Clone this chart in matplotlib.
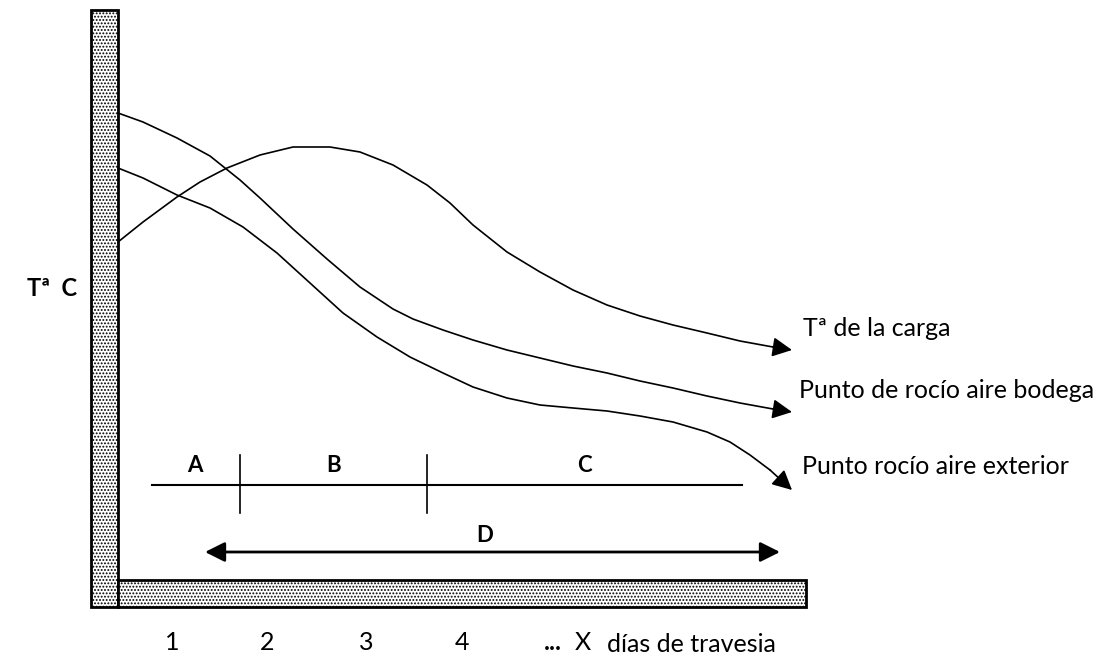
import matplotlib.pyplot as plt
from matplotlib.patches import Rectangle

# curves, in pixel coordinates (x right, y down)
carga_x = [118, 143, 177, 200, 227, 260, 293, 330, 360, 393, 427, 450, 473, 507, 540, 573, 607, 640, 673, 707, 740, 773, 792]
carga_y = [242, 222, 197, 182, 168, 155, 147, 147, 152, 165, 185, 203, 225, 252, 272, 290, 305, 316, 325, 333, 341, 347, 350]

bodega_x = [118, 143, 177, 210, 240, 260, 293, 327, 360, 393, 413, 443, 473, 507, 540, 573, 607, 640, 673, 707, 740, 773, 792]
bodega_y = [113, 122, 138, 156, 180, 198, 229, 259, 287, 309, 319, 330, 340, 350, 358, 366, 373, 381, 388, 396, 403, 409, 412]

exterior_x = [118, 143, 177, 210, 243, 277, 310, 343, 377, 410, 443, 473, 507, 540, 573, 607, 640, 673, 707, 730, 750, 770, 792]
exterior_y = [168, 178, 195, 208, 227, 253, 283, 313, 337, 357, 373, 387, 398, 405, 408, 411, 416, 422, 432, 442, 455, 470, 490]

curve_labels = ["Tª de la carga", "Punto de rocío aire bodega", "Punto rocío aire exterior"]
label_pos = [(803, 328), (799, 390), (802, 467)]

phase_labels = ["A", "B", "C"]
phase_edges = [152, 240, 427, 742]

day_labels = ["1", "2", "3", "4"]
day_x = [172, 267, 366, 462]

FONT = ["Lato", "DejaVu Sans"]

fig = plt.figure(figsize=(11.01, 6.59), dpi=100)
ax = fig.add_axes([0, 0, 1, 1])
ax.set_xlim(0, 1101)
ax.set_ylim(659, 0)
ax.axis("off")

plt.rcParams["hatch.linewidth"] = 0.9
# hatched axes bars
ax.add_patch(Rectangle((91, 10), 27, 597, facecolor="white", edgecolor="black", hatch=".....", lw=2, zorder=2))
ax.add_patch(Rectangle((118, 580), 688, 27, facecolor="white", edgecolor="black", hatch=".....", lw=2, zorder=2))

for xs, ys in [(carga_x, carga_y), (bodega_x, bodega_y), (exterior_x, exterior_y)]:
    ax.plot(xs[:-1], ys[:-1], color="black", lw=1.2, zorder=3)
    ax.annotate("", xy=(xs[-1], ys[-1]), xytext=(xs[-2], ys[-2]),
                arrowprops=dict(arrowstyle="-|>", color="black", lw=1.2,
                                mutation_scale=30, shrinkA=0, shrinkB=0))

for txt, (x, y) in zip(curve_labels, label_pos):
    ax.text(x, y, txt, fontsize=18, family=FONT, va="center", ha="left")

# phase segments A B C
ax.plot([phase_edges[0], phase_edges[-1]], [485, 485], color="black", lw=1.5)
for x in phase_edges[1:-1]:
    ax.plot([x, x], [455, 513], color="black", lw=1.2)
for i, txt in enumerate(phase_labels):
    cx = (phase_edges[i] + phase_edges[i + 1]) / 2
    if i == 0:
        cx = 195
    ax.text(cx, 465, txt, fontsize=16, family=FONT, fontweight="bold", ha="center", va="center")

# D double arrow
ax.annotate("", xy=(205, 552), xytext=(780, 552),
            arrowprops=dict(arrowstyle="<|-|>", color="black", lw=2,
                            mutation_scale=30, shrinkA=0, shrinkB=0))
ax.text(485, 535, "D", fontsize=16, family=FONT, fontweight="bold", ha="center", va="center")

ax.text(52, 288, "Tª  C", fontsize=17, family=FONT, fontweight="bold", ha="center", va="center")

for txt, x in zip(day_labels, day_x):
    ax.text(x, 643, txt, fontsize=18, family=FONT, ha="center", va="center")
ax.text(544, 643, "...", fontsize=18, family=FONT, fontweight="bold", ha="left", va="center")
ax.text(575, 643, "X", fontsize=18, family=FONT, ha="left", va="center")
ax.text(607, 645, "días de travesia", fontsize=18, family=FONT, ha="left", va="center")

fig.savefig("out.png", dpi=100)
